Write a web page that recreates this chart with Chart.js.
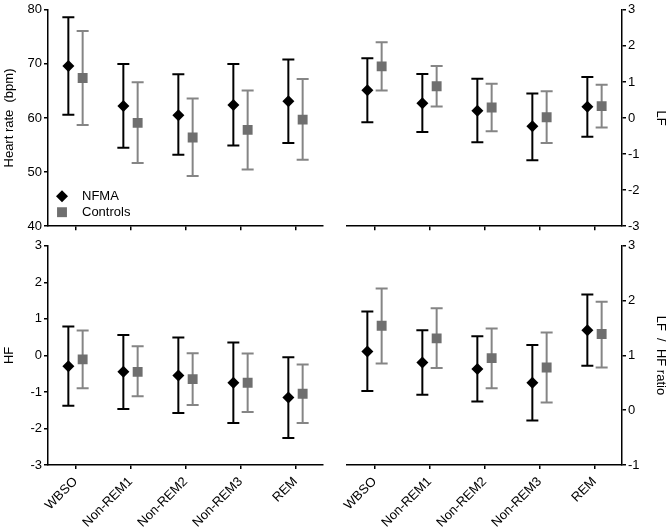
<!DOCTYPE html>
<html>
<head>
<meta charset="utf-8">
<script src="https://cdn.jsdelivr.net/npm/chart.js@4.4.1/dist/chart.umd.min.js"></script>
<style>
  html,body{margin:0;padding:0;background:#fff;}
  #wrap{position:relative;width:670px;height:527px;}
  canvas{position:absolute;}
</style>
</head>
<body>
<div id="wrap">
  <canvas id="hr" width="335" height="236" style="left:0;top:0"></canvas>
  <canvas id="lf" width="335" height="236" style="left:335px;top:0"></canvas>
  <canvas id="hf" width="335" height="291" style="left:0;top:236px"></canvas>
  <canvas id="ratio" width="335" height="291" style="left:335px;top:236px"></canvas>
</div>
<script>
const categories = ['WBSO', 'Non-REM1', 'Non-REM2', 'Non-REM3', 'REM'];
const groups = ['NFMA', 'Controls'];

// heart rate (bpm)
const hrTicks = [40, 50, 60, 70, 80];
const hrNfmaMean = [69.6, 62.2, 60.5, 62.4, 63.1];
const hrNfmaLow = [60.6, 54.5, 53.2, 54.9, 55.4];
const hrNfmaHigh = [78.6, 70.0, 68.1, 70.0, 70.8];
const hrCtrlMean = [67.4, 59.1, 56.4, 57.8, 59.7];
const hrCtrlLow = [58.7, 51.7, 49.3, 50.5, 52.3];
const hrCtrlHigh = [76.1, 66.6, 63.6, 65.1, 67.2];

// LF
const lfTicks = [-3, -2, -1, 0, 1, 2, 3];
const lfNfmaMean = [0.77, 0.41, 0.20, -0.23, 0.31];
const lfNfmaLow = [-0.12, -0.39, -0.67, -1.17, -0.52];
const lfNfmaHigh = [1.66, 1.22, 1.09, 0.68, 1.14];
const lfCtrlMean = [1.43, 0.88, 0.29, 0.02, 0.33];
const lfCtrlLow = [0.76, 0.32, -0.37, -0.69, -0.26];
const lfCtrlHigh = [2.10, 1.44, 0.95, 0.74, 0.92];

// HF
const hfTicks = [-3, -2, -1, 0, 1, 2, 3];
const hfNfmaMean = [-0.30, -0.45, -0.55, -0.75, -1.15];
const hfNfmaLow = [-1.38, -1.47, -1.58, -1.85, -2.26];
const hfNfmaHigh = [0.79, 0.56, 0.49, 0.35, -0.05];
const hfCtrlMean = [-0.11, -0.45, -0.65, -0.75, -1.05];
const hfCtrlLow = [-0.90, -1.12, -1.36, -1.55, -1.85];
const hfCtrlHigh = [0.68, 0.25, 0.06, 0.05, -0.25];

// LF / HF ratio
const ratioTicks = [-1, 0, 1, 2, 3];
const ratioNfmaMean = [1.07, 0.87, 0.75, 0.50, 1.46];
const ratioNfmaLow = [0.35, 0.28, 0.16, -0.19, 0.81];
const ratioNfmaHigh = [1.80, 1.46, 1.35, 1.19, 2.11];
const ratioCtrlMean = [1.54, 1.31, 0.95, 0.78, 1.39];
const ratioCtrlLow = [0.85, 0.77, 0.40, 0.14, 0.78];
const ratioCtrlHigh = [2.22, 1.86, 1.49, 1.42, 1.98];

const FONT = {family: '"Liberation Sans", Arial, sans-serif', size: 13};
const NFMA_COL = '#000000', CTRL_COL = '#6f6f6f', CTRL_BAR = '#858585';
const OFF = 0.13;

function meanSet(vals, off, style, radius, col){
  return {type:'scatter', data: vals.map((v,i)=>({x:i+off, y:v})), pointStyle:style, pointRadius:radius,
    backgroundColor:col, borderColor:col, pointBorderWidth:0, pointHoverRadius:radius};
}
function whiskerSet(lo, hi, off, col){
  const pts = [];
  lo.forEach((v,i)=>{ pts.push({x:i+off, y:v}, {x:i+off, y:hi[i]}, {x:i+off, y:null}); });
  return {type:'line', data:pts, borderColor:col, borderWidth:2, showLine:true, spanGaps:false, fill:false,
    pointStyle:'line', pointRadius:6, pointBorderWidth:2, pointBorderColor:col, pointHoverRadius:6};
}

const groupLegend = {
  id:'groupLegend',
  afterDraw(chart){
    const ctx = chart.ctx, a = chart.chartArea;
    const x = a.left + 14;
    const rows = [[groups[0], 'rectRot', 6, NFMA_COL, a.bottom - 30], [groups[1], 'rect', 7, CTRL_COL, a.bottom - 14]];
    ctx.save();
    rows.forEach(([txt, style, r, col, y])=>{
      ctx.fillStyle = col; ctx.strokeStyle = col;
      Chart.helpers.drawPoint(ctx, {pointStyle:style, radius:r, borderWidth:0, rotation:0}, x, y);
      ctx.fillStyle = '#000'; ctx.font = '13px ' + FONT.family; ctx.textBaseline = 'middle'; ctx.textAlign = 'left';
      ctx.fillText(txt, x + 20, y);
    });
    ctx.restore();
  }
};

function panel(id, cfg){
  const axisLine = {display:true, color:'#000', width:1.5};
  const tickGrid = {display:true, drawOnChartArea:false, drawTicks:true, tickLength:4, color:'#000', lineWidth:1.5};
  return new Chart(document.getElementById(id), {
    type:'scatter',
    data:{datasets:[
      meanSet(cfg.nfma[0], -OFF, 'rectRot', 6, NFMA_COL),
      meanSet(cfg.ctrl[0], OFF, 'rect', 7, CTRL_COL),
      whiskerSet(cfg.nfma[1], cfg.nfma[2], -OFF, NFMA_COL),
      whiskerSet(cfg.ctrl[1], cfg.ctrl[2], OFF, CTRL_BAR)
    ]},
    options:{
      responsive:false, animation:false,
      layout:{padding:cfg.pad},
      plugins:{legend:{display:false}, tooltip:{enabled:false}},
      scales:{
        x:{type:'linear', min:-0.5, max:4.5,
          afterBuildTicks: s=>{ s.ticks = categories.map((c,i)=>({value:i})); },
          afterFit: s=>{ s.height = cfg.xh; },
          ticks:{color:'#000', font:FONT, padding:5, minRotation:cfg.labels?45:0, maxRotation:cfg.labels?45:0,
            callback: v=> cfg.labels ? categories[v] : ''},
          grid:tickGrid, border:axisLine},
        y:{type:'linear', position:cfg.side, min:cfg.ticks[0], max:cfg.ticks[cfg.ticks.length-1],
          afterBuildTicks: s=>{ s.ticks = cfg.ticks.map(v=>({value:v})); },
          afterFit: s=>{ s.width = 48; },
          ticks:{color:'#000', font:FONT, padding:2},
          title:{display:true, text:cfg.title, color:'#000', font:FONT, padding:{top:2, bottom:0}},
          grid:tickGrid, border:axisLine}
      }
    },
    plugins: cfg.legend ? [groupLegend] : []
  });
}

panel('hr', {title:'Heart rate  (bpm)', side:'left', ticks:hrTicks, pad:{top:7, right:12}, xh:8, labels:false, legend:true,
  nfma:[hrNfmaMean, hrNfmaLow, hrNfmaHigh], ctrl:[hrCtrlMean, hrCtrlLow, hrCtrlHigh]});
panel('lf', {title:'LF', side:'right', ticks:lfTicks, pad:{top:7, left:12}, xh:8, labels:false,
  nfma:[lfNfmaMean, lfNfmaLow, lfNfmaHigh], ctrl:[lfCtrlMean, lfCtrlLow, lfCtrlHigh]});
panel('hf', {title:'HF', side:'left', ticks:hfTicks, pad:{top:9, right:12}, xh:62, labels:true,
  nfma:[hfNfmaMean, hfNfmaLow, hfNfmaHigh], ctrl:[hfCtrlMean, hfCtrlLow, hfCtrlHigh]});
panel('ratio', {title:'LF  /  HF ratio', side:'right', ticks:ratioTicks, pad:{top:9, left:12}, xh:62, labels:true,
  nfma:[ratioNfmaMean, ratioNfmaLow, ratioNfmaHigh], ctrl:[ratioCtrlMean, ratioCtrlLow, ratioCtrlHigh]});
</script>
</body>
</html>
